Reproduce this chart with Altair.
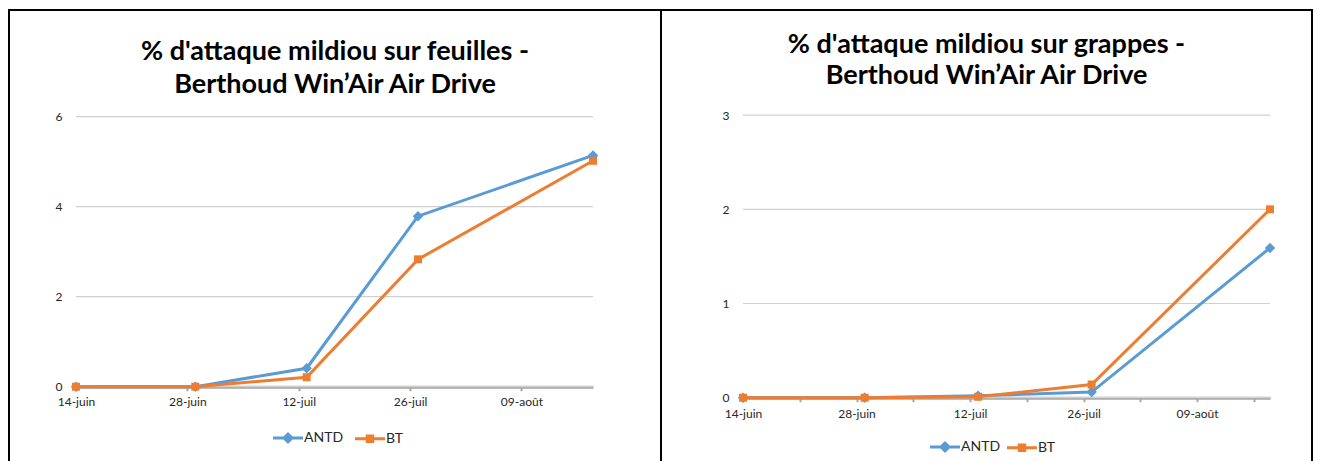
import json
import altair as alt
import pandas as pd

# ---------------- data ----------------
dates = ["2017-06-14", "2017-06-29", "2017-07-13", "2017-07-27", "2017-08-18"]
series = ["ANTD", "BT"]
leaves_antd = [0, 0, 0.41, 3.79, 5.14]
leaves_bt = [0, 0, 0.21, 2.83, 5.02]
grapes_antd = [0, 0, 0.02, 0.06, 1.59]
grapes_bt = [0, 0, 0.01, 0.14, 2.0]

label_dates = ["2017-06-14", "2017-06-28", "2017-07-12", "2017-07-26", "2017-08-09"]
tick_dates_right = ["2017-06-14", "2017-06-21", "2017-06-28", "2017-07-05", "2017-07-12",
                    "2017-07-19", "2017-07-26", "2017-08-02", "2017-08-09", "2017-08-16"]
axis_start, axis_end = "2017-06-14", "2017-08-18"
months_fr = ["janv", "févr", "mars", "avr", "mai", "juin", "juil", "août", "sept", "oct", "nov", "déc"]

y_ticks_left = [0, 2, 4, 6]
y_ticks_right = [0, 1, 2, 3]

title_left = ["% d'attaque mildiou sur feuilles -", "Berthoud Win\u2019Air Air Drive"]
title_right = ["% d'attaque mildiou sur grappes -", "Berthoud Win\u2019Air Air Drive"]

colors = ["#5B9BD5", "#ED7D31"]
shapes = ["diamond", "square"]
sizes = [110, 64]
legend_paths = ["M-3,0L3,0M0,-0.8L0.8,0L0,0.8L-0.8,0Z",
                "M-3,0L3,0M-0.55,-0.55L0.55,-0.55L0.55,0.55L-0.55,0.55Z"]

FONT = "Lato"
H = 460


def ms(d):
    return int(pd.Timestamp(d, tz="UTC").value // 10**6)


label_ms = [ms(d) for d in label_dates]
fmt = ("utcFormat(datum.value, '%d') + '-' + " + json.dumps(months_fr, ensure_ascii=False)
       + "[utcmonth(datum.value)]")
label_expr = "indexof(" + json.dumps(label_ms) + ", time(datum.value)) >= 0 ? " + fmt + " : ''"


def panel(values, ticks_y, tick_dates, xr, yr, ydom, title, title_off, lh, leg_xy, leg_cp,
          lab_pad, w):
    df = pd.DataFrame({
        "date": dates * 2,
        "series": [series[0]] * len(dates) + [series[1]] * len(dates),
        "value": values[0] + values[1],
    })
    grid_df = pd.DataFrame({"v": ticks_y, "x0": axis_start, "x1": axis_end})

    xscale = alt.Scale(type="utc", domain=[ms(axis_start), ms(axis_end)], range=xr, nice=False)
    yscale = alt.Scale(domain=ydom, range=yr, nice=False, zero=False)
    xaxis = alt.Axis(values=[ms(d) for d in tick_dates], labelExpr=label_expr, grid=False,
                     domainColor="#A6A6A6", domainWidth=3, tickColor="#A6A6A6", tickWidth=2,
                     tickSize=4, labelFont=FONT, labelFontSize=12, labelColor="#262626",
                     labelPadding=lab_pad, offset=yr[0] - H, title=None, labelFlush=False,
                     labelOverlap=False, labelBound=False)
    yaxis = alt.Axis(values=ticks_y, grid=False, domain=False, ticks=False, tickSize=0,
                     labelPadding=14, offset=-xr[0], labelFont=FONT, labelFontSize=12,
                     labelColor="#262626", title=None)

    grid = alt.Chart(grid_df).mark_rule(color="#D0D0D0", strokeWidth=1.2).encode(
        x=alt.X("x0:T", scale=xscale, axis=xaxis),
        x2="x1:T",
        y=alt.Y("v:Q", scale=yscale, axis=yaxis),
    )
    layers = [grid]
    for name, c, shp, sz in zip(series, colors, shapes, sizes):
        base = alt.Chart(df).transform_filter(alt.datum.series == name).encode(
            x=alt.X("date:T", scale=xscale, axis=xaxis),
            y=alt.Y("value:Q", scale=yscale, axis=yaxis),
        )
        layers.append(base.mark_line(color=c, strokeWidth=3))
        layers.append(base.mark_point(filled=True, shape=shp, size=sz, color=c, opacity=1))

    leg = alt.Legend(orient="none", legendX=leg_xy[0], legendY=leg_xy[1], direction="horizontal",
                     title=None, symbolSize=100, symbolStrokeWidth=3, labelFont=FONT,
                     labelFontSize=14, labelColor="#262626", labelOffset=9, columnPadding=leg_cp,
                     padding=0)
    legend_layer = alt.Chart(pd.DataFrame({"series": series})).transform_filter("false").mark_point(
        filled=True, opacity=1, strokeWidth=3
    ).encode(
        shape=alt.Shape("series:N", scale=alt.Scale(domain=series, range=legend_paths), legend=leg),
        fill=alt.Fill("series:N", scale=alt.Scale(domain=series, range=colors), legend=leg),
        stroke=alt.Stroke("series:N", scale=alt.Scale(domain=series, range=colors), legend=leg),
    )
    layers.append(legend_layer)

    return alt.layer(*layers).properties(
        width=w, height=H,
        title=alt.TitleParams(text=title, anchor="middle", frame="group", offset=title_off,
                              fontSize=27, font=FONT, fontWeight="bold", lineHeight=lh,
                              color="black"),
    )


left = panel([leaves_antd, leaves_bt], y_ticks_left, label_dates, [67, 584], [376.7, 106.7], [0, 6],
             title_left, -89, 33, (272, 421), 5, 6, 652)
right = panel([grapes_antd, grapes_bt], y_ticks_right, tick_dates_right, [82, 609], [387.7, 105.1],
              [0, 3], title_right, -80, 31, (277, 430), 0, 7, 651)

chart = alt.hconcat(left, right, spacing=0, bounds="flush").resolve_scale(
    x="independent", y="independent", fill="independent", stroke="independent", shape="independent"
).resolve_legend(fill="independent", stroke="independent", shape="independent").properties(
    padding={"left": 0, "top": 1, "right": 0, "bottom": 0}, background="white"
).configure_view(stroke="black", strokeWidth=2)

chart.save("out.html", embed_options={"renderer": "svg", "actions": False})
